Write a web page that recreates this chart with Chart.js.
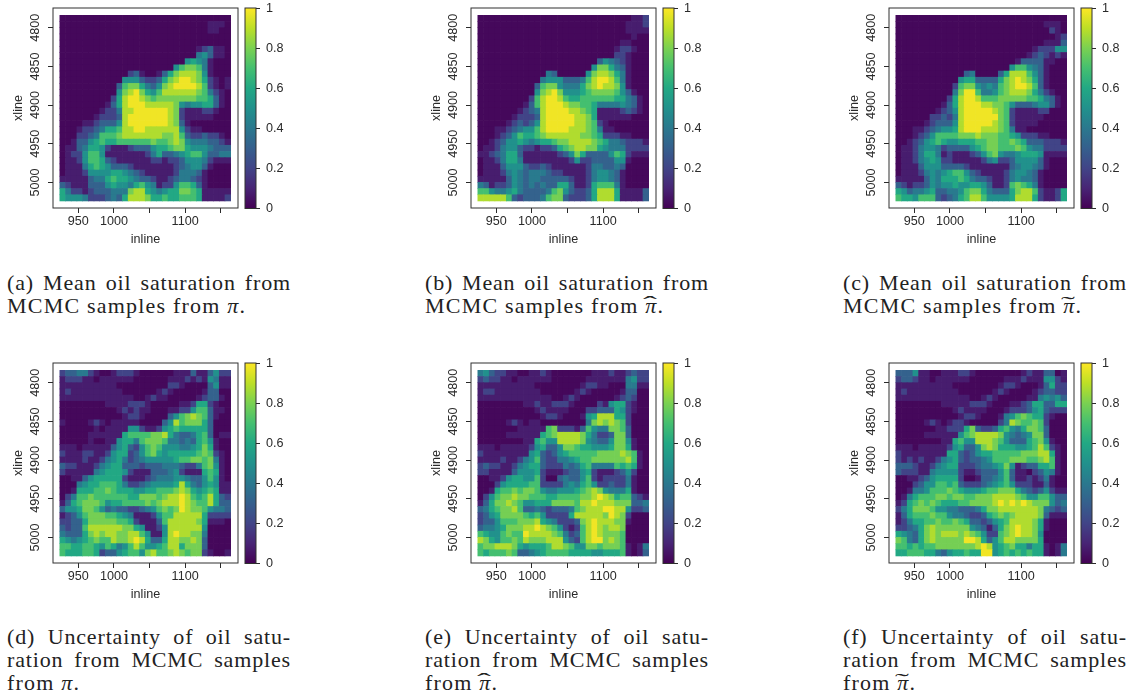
<!DOCTYPE html>
<html>
<head>
<meta charset="utf-8">
<title>Oil saturation maps</title>
<script src="https://cdn.jsdelivr.net/npm/chart.js@4/dist/chart.umd.min.js"></script>
<style>
  html, body { margin: 0; background: #fff; }
  #page { position: relative; width: 1137px; height: 700px; overflow: hidden; }
  canvas { position: absolute; filter: blur(0.35px); }
  .cap { position: absolute; width: 284px; font: 22px/22.8px "Liberation Serif", serif; letter-spacing: 1.2px; color: #222; }
  .cap div { white-space: nowrap; }
  .cap .j { width: 290px; letter-spacing: 0.85px; word-spacing: 0; }
  .cap .j span { display: block; width: 284px; white-space: normal; text-align: justify; text-align-last: justify; }
  .acc { position: relative; display: inline-block; font-style: italic; }
  .acc i { position: absolute; left: 0; top: -2px; width: 100%; text-align: center; font-style: normal; transform: scaleX(1.9); }
</style>
</head>
<body>
<div id="page"></div>
<script>
// grid centres of the survey
const inlineCenters = [928,936,944,952,960,968,976,984,992,1000,1008,1016,1024,1032,1040,1048,1056,1064,1072,1080,1088,1096,1104,1112,1120,1128,1136,1144,1152,1160];
const xlineCenters = [4788,4796,4804,4812,4820,4828,4836,4844,4852,4860,4868,4876,4884,4892,4900,4908,4916,4924,4932,4940,4948,4956,4964,4972,4980,4988,4996,5004,5012,5020];

const inlineTicks = [950,1000,1050,1100,1150];
const inlineLabelled = [950,1000,1100];
const xlineTicks = [4800,4850,4900,4950,5000];
const colorTicks = [0,0.2,0.4,0.6,0.8,1];

// the picture was read in eleven colour steps, this is the value of each step
const stepValues = [0.02,0.08,0.2,0.31,0.41,0.5,0.6,0.7,0.79,0.88,0.98];

// cells below hold the step number
const meanPi = [
[0,0,0,0,0,0,0,0,0,0,0,0,0,0,0,0,0,0,0,0,0,0,0,0,0,0,0,0,0,0],
[0,0,0,0,0,0,0,0,0,0,0,0,0,0,0,0,0,0,0,0,0,0,0,0,0,0,1,1,1,0],
[0,0,0,0,0,0,0,0,0,0,0,0,0,0,0,0,0,0,0,0,0,0,0,0,0,0,1,1,0,0],
[0,0,0,0,0,0,0,0,0,0,0,0,0,0,0,0,0,0,0,0,0,0,0,0,0,0,0,0,0,0],
[0,0,0,0,0,0,0,0,0,0,0,0,0,0,0,0,0,0,0,0,0,0,0,0,0,0,0,0,0,0],
[0,0,0,0,0,0,0,0,0,0,0,0,0,0,0,0,0,0,0,0,0,0,0,0,1,2,3,1,1,0],
[0,0,0,0,0,0,0,0,0,0,0,0,0,0,0,0,0,0,0,0,0,0,0,0,4,5,3,1,1,0],
[0,0,0,0,0,0,0,0,0,0,0,0,0,0,0,0,0,0,0,0,0,0,5,6,5,4,1,0,0,0],
[0,0,0,0,0,0,0,0,0,0,0,0,0,0,0,0,0,0,0,0,5,7,8,8,7,4,1,0,0,0],
[0,0,0,0,0,0,0,0,0,0,0,0,2,3,1,0,0,1,3,6,8,9,9,9,8,5,1,0,0,0],
[0,0,0,0,0,0,0,0,0,0,0,5,5,5,3,2,2,3,6,8,9,10,10,9,8,6,2,1,0,1],
[0,0,0,0,0,0,0,0,0,0,3,7,8,8,6,4,3,5,8,9,10,10,10,10,9,7,2,1,0,1],
[0,0,0,0,0,0,0,0,0,0,5,8,9,10,8,6,5,7,9,9,9,9,9,9,8,7,4,2,1,0],
[0,0,0,0,0,0,0,0,0,2,6,9,10,10,9,8,7,8,8,8,8,8,8,8,7,7,6,3,1,0],
[0,0,0,0,0,0,0,0,1,3,6,9,10,10,10,9,9,9,9,9,8,5,4,5,5,6,6,3,1,0],
[0,0,0,0,0,0,0,1,2,2,4,9,9,10,10,10,10,10,10,9,8,2,1,1,1,2,2,1,0,0],
[0,0,0,0,0,0,1,2,2,2,3,9,10,10,10,10,10,10,10,9,8,2,1,1,1,1,1,0,0,0],
[0,0,0,0,1,1,2,3,3,3,5,9,10,10,10,10,10,10,10,9,8,3,1,0,0,0,0,0,0,0],
[0,0,0,1,2,2,3,4,6,6,7,9,9,10,10,9,9,9,9,9,9,5,2,1,1,0,0,0,0,0],
[0,0,0,2,2,3,4,7,7,7,8,9,9,9,9,9,9,9,8,8,9,7,3,2,2,3,2,2,1,0],
[0,0,1,3,3,5,6,7,6,6,7,7,7,7,7,7,8,7,7,8,9,8,5,4,4,4,3,3,2,1],
[0,1,1,3,4,6,6,5,2,1,1,1,2,3,3,3,5,6,6,7,8,8,6,5,5,5,4,3,3,3],
[0,1,2,2,5,7,7,5,1,1,1,1,1,1,1,2,4,6,3,3,4,5,6,7,7,5,3,3,4,4],
[0,1,1,2,5,7,7,6,3,2,1,1,1,1,1,1,2,2,1,2,2,3,5,5,5,4,2,1,1,1],
[0,1,1,1,4,6,7,6,5,3,3,3,2,1,1,1,1,1,1,1,2,3,4,5,5,3,1,0,0,0],
[0,1,1,1,2,5,5,5,5,6,6,5,4,3,2,1,1,1,1,1,2,4,4,4,3,1,0,0,0,0],
[1,1,1,1,1,3,4,4,6,7,6,6,5,4,3,3,2,1,1,2,3,4,4,3,2,1,0,0,0,0],
[3,2,1,1,1,3,3,3,5,6,5,5,4,6,7,5,4,1,2,2,5,7,7,6,3,1,0,0,0,0],
[6,4,2,2,1,2,3,3,3,4,4,4,8,9,9,6,5,4,5,6,6,8,8,7,6,1,1,1,1,1],
[6,5,5,5,4,2,2,2,3,4,3,6,9,9,9,8,6,6,7,6,6,7,7,7,6,1,1,1,1,2]
];
const meanHat = [
[0,0,0,0,0,0,0,0,0,0,0,0,0,0,0,0,0,0,0,0,0,0,0,0,0,0,0,1,1,2],
[0,0,0,0,0,0,0,0,0,0,0,0,0,0,0,0,0,0,0,0,0,0,0,0,0,0,1,1,1,2],
[0,0,0,0,0,0,0,0,0,0,0,0,0,0,0,0,0,0,0,0,0,0,0,0,0,0,1,1,1,1],
[0,0,0,0,0,0,0,0,0,0,0,0,0,0,0,0,0,0,0,0,0,0,0,0,0,0,0,1,0,0],
[0,0,0,0,0,0,0,0,0,0,0,0,0,0,0,0,0,0,0,0,0,0,0,0,0,1,1,0,0,0],
[0,0,0,0,0,0,0,0,0,0,0,0,0,0,0,0,0,0,0,0,0,0,0,0,1,2,2,1,0,0],
[0,0,0,0,0,0,0,0,0,0,0,0,0,0,0,0,0,0,0,0,0,0,0,0,2,2,1,0,0,0],
[0,0,0,0,0,0,0,0,0,0,0,0,0,0,0,0,0,0,0,0,0,3,5,4,3,2,1,0,0,0],
[0,0,0,0,0,0,0,0,0,0,0,0,0,0,0,0,0,0,0,0,5,8,8,6,4,3,1,0,0,0],
[0,0,0,0,0,0,0,0,0,0,0,0,4,3,0,0,0,0,0,5,8,9,9,8,6,4,1,0,0,0],
[0,0,0,0,0,0,0,0,0,0,0,4,5,5,5,3,3,3,4,7,9,10,10,9,7,4,1,0,0,0],
[0,0,0,0,0,0,0,0,0,0,3,7,8,8,5,4,4,4,6,8,9,10,9,9,8,5,1,0,0,0],
[0,0,0,0,0,0,0,0,0,0,5,8,9,10,8,5,5,5,6,7,8,8,8,8,7,5,3,1,0,0],
[0,0,0,0,0,0,0,0,0,2,7,9,10,10,9,7,6,6,7,7,7,7,7,7,6,6,4,3,1,0],
[0,0,0,0,0,0,0,0,1,3,7,9,10,10,10,9,8,8,7,7,6,4,4,4,4,5,4,3,1,0],
[0,0,0,0,0,0,0,1,2,3,4,9,10,10,10,10,9,9,8,7,6,1,1,1,1,2,3,2,1,0],
[0,0,0,0,0,0,1,2,2,2,3,9,10,10,10,10,10,9,9,8,6,1,1,1,1,1,1,0,0,0],
[0,0,0,0,0,1,2,3,2,3,5,9,10,10,10,10,10,9,9,8,7,2,1,0,0,0,0,0,0,0],
[0,0,0,1,1,2,3,4,5,5,7,9,10,10,10,10,9,9,9,8,7,4,1,1,0,0,0,0,0,0],
[0,0,0,1,2,3,5,7,6,6,7,8,9,9,9,9,9,9,8,8,7,6,2,2,2,1,1,0,0,0],
[0,0,1,2,3,5,5,6,5,4,5,6,6,7,8,8,9,9,9,9,8,7,6,4,4,3,2,2,2,1],
[0,1,1,2,4,5,5,3,2,2,1,2,2,3,6,7,8,9,9,8,8,6,5,4,4,4,2,2,2,2],
[1,1,2,3,4,6,6,3,1,1,1,1,1,1,2,3,5,8,6,3,3,3,3,5,7,6,2,1,1,1],
[0,1,1,2,4,6,6,4,1,1,1,1,1,1,1,1,2,5,2,2,3,3,3,3,5,5,1,0,0,0],
[0,1,1,1,3,5,5,5,3,2,2,3,2,1,1,1,1,1,1,2,4,4,3,3,4,3,0,0,0,0],
[0,1,1,1,2,4,5,4,3,4,4,4,3,2,2,1,1,1,1,2,4,5,5,4,3,1,0,0,0,0],
[1,1,1,1,1,3,5,4,3,4,4,3,3,3,3,3,2,1,1,2,4,5,5,4,3,1,0,0,0,0],
[4,3,1,2,2,3,5,4,3,4,3,4,3,3,6,6,3,1,1,2,6,7,7,7,4,1,0,0,0,0],
[7,7,5,4,4,5,6,4,3,3,3,3,4,7,8,5,3,2,2,3,6,9,9,9,6,1,1,1,1,3],
[9,9,9,9,9,7,3,2,3,3,3,4,7,8,8,3,2,2,2,3,6,9,9,9,6,1,1,1,1,3]
];
const meanTilde = [
[0,0,0,0,0,0,0,0,0,0,0,0,0,0,0,0,0,0,0,0,0,0,0,0,0,0,0,0,0,0],
[0,0,0,0,0,0,0,0,0,0,0,0,0,0,0,0,0,0,0,0,0,0,0,0,0,0,1,1,1,0],
[0,0,0,0,0,0,0,0,0,0,0,0,0,0,0,0,0,0,0,0,0,0,0,0,0,0,0,2,1,0],
[0,0,0,0,0,0,0,0,0,0,0,0,0,0,0,0,0,0,0,0,0,0,0,0,0,0,0,0,1,2],
[0,0,0,0,0,0,0,0,0,0,0,0,0,0,0,0,0,0,0,0,0,0,0,0,0,0,1,1,1,3],
[0,0,0,0,0,0,0,0,0,0,0,0,0,0,0,0,0,0,0,0,0,0,0,0,1,2,2,2,5,5],
[0,0,0,0,0,0,0,0,0,0,0,0,0,0,0,0,0,0,0,0,0,0,0,1,2,3,2,1,2,1],
[0,0,0,0,0,0,0,0,0,0,0,0,0,0,0,0,0,0,0,0,0,1,3,3,3,3,1,1,0,0],
[0,0,0,0,0,0,0,0,0,0,0,0,0,0,0,0,0,0,0,0,5,7,7,5,4,3,1,0,0,0],
[0,0,0,0,0,0,0,0,0,0,0,0,3,4,0,0,0,0,3,6,9,9,9,7,5,3,1,0,0,0],
[0,0,0,0,0,0,0,0,0,0,0,5,6,6,3,3,3,3,6,8,9,10,9,8,6,3,1,0,0,0],
[0,0,0,0,0,0,0,0,0,0,2,7,8,8,5,4,5,4,7,8,9,10,10,9,7,3,1,0,0,0],
[0,0,0,0,0,0,0,0,0,0,4,8,10,10,7,4,4,5,7,8,9,9,9,8,6,4,2,1,0,0],
[0,0,0,0,0,0,0,0,0,2,6,9,10,10,9,7,7,7,8,8,8,8,8,7,7,6,4,3,1,0],
[0,0,0,0,0,0,0,0,1,3,6,9,10,10,10,9,9,8,8,7,5,3,3,3,4,5,5,3,1,0],
[0,0,0,0,0,0,0,1,2,3,5,9,10,10,10,10,10,9,8,7,2,1,1,1,1,2,2,0,0,0],
[0,0,0,0,0,0,2,2,3,2,4,9,10,10,10,10,10,10,8,7,2,1,1,1,1,1,0,0,0,0],
[0,0,0,0,0,1,2,3,3,3,5,9,10,10,10,10,10,9,8,7,2,1,1,1,1,0,0,0,0,0],
[0,0,0,1,1,2,3,4,5,5,6,9,10,10,10,9,9,9,8,7,4,1,1,0,0,0,0,0,0,0],
[0,0,0,1,2,3,5,7,7,7,7,8,8,8,9,8,8,8,7,7,6,5,2,2,2,1,1,0,0,0],
[0,0,1,2,3,5,6,7,6,5,5,6,6,6,7,7,8,8,7,7,8,7,6,3,3,3,2,2,2,1],
[0,1,1,2,4,5,5,4,2,3,3,3,3,5,6,7,8,8,7,7,7,8,7,5,4,4,2,2,2,2],
[0,1,1,2,4,6,6,4,1,2,1,1,1,2,3,5,7,8,5,4,4,5,6,6,6,5,1,1,1,1],
[0,1,1,2,4,5,6,5,2,2,1,1,1,1,1,2,4,5,2,2,3,5,5,5,5,3,1,0,0,0],
[0,1,1,1,3,5,5,5,3,3,3,3,2,1,1,1,1,1,1,1,3,4,5,5,4,3,1,0,0,0],
[0,1,1,1,2,4,5,4,5,6,7,7,5,3,2,1,1,1,1,2,4,5,5,4,3,1,0,0,0,0],
[1,1,1,1,1,3,5,4,6,6,6,7,6,4,3,3,2,1,1,2,4,5,4,4,3,1,0,0,0,0],
[3,2,1,2,2,3,5,4,5,5,6,5,5,6,6,5,3,1,1,2,7,8,7,6,4,1,0,0,0,0],
[6,5,3,4,4,5,6,3,3,4,4,5,7,8,8,6,4,3,3,3,6,8,9,9,7,2,1,1,2,6],
[7,6,6,5,7,7,7,3,2,3,4,6,7,9,9,7,5,5,5,5,6,9,9,9,6,2,1,1,2,6]
];
const uncertPi = [
[2,3,3,4,4,2,1,0,0,1,2,2,2,1,0,0,0,0,0,0,1,1,1,3,1,1,3,5,2,2],
[1,2,2,2,1,1,0,1,1,1,1,1,1,0,0,0,0,0,0,1,1,1,2,1,2,1,5,4,1,1],
[1,1,1,1,1,1,1,1,1,1,0,0,0,0,0,0,0,0,0,2,2,1,0,0,0,0,3,5,1,1],
[1,2,1,1,1,1,1,1,1,1,1,0,0,0,0,0,0,1,2,1,0,0,0,0,0,1,3,3,0,0],
[1,1,1,1,1,1,1,1,1,1,1,1,1,0,0,1,2,1,1,0,0,0,0,0,1,2,3,3,1,0],
[0,0,0,0,0,0,0,0,1,1,1,1,2,2,2,1,0,0,0,0,0,1,1,2,6,6,2,1,0,0],
[0,0,0,0,0,0,0,0,0,0,1,2,1,2,1,1,0,0,0,1,1,2,2,5,7,7,3,1,1,0],
[0,0,0,0,0,0,0,0,0,0,0,1,2,2,1,0,0,0,0,3,5,7,8,9,8,7,3,1,0,0],
[1,0,0,0,0,1,2,1,0,1,1,1,1,1,0,0,0,0,3,5,9,7,8,8,8,6,3,0,0,0],
[0,0,0,0,0,0,1,0,1,1,1,1,5,5,2,1,1,2,5,6,7,6,6,6,6,6,3,0,0,0],
[0,0,0,0,0,1,1,1,1,1,1,6,7,7,7,7,8,8,9,6,4,3,3,4,6,7,3,0,1,1],
[0,0,0,0,0,1,0,0,1,1,5,6,6,4,7,8,8,8,7,4,4,3,4,3,6,7,5,1,0,0],
[1,1,1,0,1,1,1,1,1,3,5,6,3,2,5,7,8,7,5,5,5,4,4,5,6,8,6,1,0,0],
[2,1,1,1,2,2,1,1,2,5,6,6,2,3,5,7,8,6,5,6,6,6,6,6,7,8,7,2,1,0],
[1,1,1,1,2,1,1,2,4,5,6,4,2,3,4,5,5,5,5,5,6,7,7,8,8,7,8,4,1,0],
[3,2,2,1,1,1,2,4,5,6,6,3,3,3,2,3,3,3,4,4,4,3,2,2,4,7,8,5,1,0],
[2,1,1,1,1,1,4,5,6,6,6,5,2,1,1,1,3,3,3,4,5,2,1,1,1,6,7,6,1,0],
[0,0,1,1,3,5,6,6,6,6,6,2,1,1,1,2,3,4,4,4,5,5,4,3,3,5,7,5,1,0],
[0,0,0,4,5,6,6,7,7,7,6,4,2,2,3,4,5,5,5,5,6,9,6,4,3,5,6,5,1,1],
[0,0,1,6,6,6,7,7,8,7,6,6,6,5,5,6,6,7,7,7,8,9,8,6,5,6,7,6,1,1],
[0,2,4,7,7,8,7,7,7,7,7,7,6,6,8,8,8,7,8,9,9,10,9,7,6,7,9,6,3,2],
[1,3,6,7,8,8,8,7,5,6,6,7,7,7,7,8,7,8,9,9,9,10,9,8,7,7,9,6,3,3],
[3,5,5,6,8,8,7,5,3,4,3,3,2,2,3,4,5,7,8,7,8,10,9,8,8,7,5,4,4,3],
[1,2,3,5,7,8,8,8,7,7,6,5,4,1,1,1,2,5,7,7,9,9,9,9,9,6,2,2,2,2],
[2,2,3,3,6,8,8,8,8,8,7,7,6,2,1,1,1,3,7,9,9,9,9,9,8,6,1,1,1,0],
[3,2,3,3,7,9,9,9,9,9,9,8,8,6,5,1,1,2,5,9,9,9,9,9,9,5,0,0,0,0],
[4,3,3,3,6,8,9,8,9,9,8,8,9,9,7,5,1,1,5,9,10,9,9,8,8,4,0,0,0,0],
[6,5,4,5,6,7,8,7,7,9,8,8,9,10,9,6,3,3,6,9,9,8,8,9,8,3,0,0,0,0],
[7,7,6,6,7,7,6,5,7,6,4,5,7,9,7,5,5,6,7,9,9,6,8,8,8,3,0,0,0,0],
[7,6,6,6,7,7,6,2,3,3,5,6,7,7,5,8,9,7,7,8,9,8,7,8,8,2,1,0,0,1]
];
const uncertHat = [
[4,5,3,2,2,1,1,0,0,1,1,2,1,0,0,0,0,0,0,0,1,1,1,2,1,1,2,3,2,2],
[2,3,2,2,1,1,0,1,1,1,1,1,1,0,0,0,0,0,0,1,1,1,1,1,1,1,4,5,2,2],
[1,1,1,1,1,1,1,1,1,1,0,0,0,0,0,0,0,0,1,2,2,1,1,0,0,0,4,4,1,1],
[1,2,2,1,1,1,1,1,1,1,1,0,0,0,0,0,0,1,2,1,0,0,0,0,0,1,3,3,0,0],
[1,1,1,1,1,1,1,1,1,1,1,1,1,0,0,1,2,1,0,0,0,0,0,0,1,2,3,2,0,0],
[0,0,0,0,0,0,0,0,1,1,2,1,1,2,2,2,1,0,0,0,0,2,1,5,6,6,2,1,0,0],
[0,0,0,0,0,0,0,0,0,0,1,2,1,1,1,1,0,0,0,2,2,3,3,3,6,5,2,1,0,0],
[0,0,0,0,0,0,0,0,0,0,0,1,2,2,1,0,0,0,1,5,6,9,9,9,6,6,2,0,0,0],
[0,0,0,0,0,1,2,1,0,1,1,0,0,0,0,0,0,0,0,4,8,9,8,9,8,7,2,0,0,0],
[0,0,0,0,0,0,0,1,1,1,1,1,7,8,2,2,2,1,3,7,5,4,4,8,8,7,3,0,0,0],
[0,0,0,0,0,1,1,1,1,1,1,6,7,8,9,9,9,9,8,6,4,2,2,3,8,8,3,0,0,0],
[0,0,0,0,0,0,0,0,1,1,6,7,5,5,9,9,9,9,8,5,4,3,3,5,8,8,5,1,0,0],
[1,1,1,0,1,1,1,1,1,2,5,6,3,3,5,8,8,7,6,6,5,5,5,6,8,8,6,1,0,0],
[2,1,1,1,1,1,1,1,1,5,6,3,2,3,5,6,7,7,7,7,7,8,8,8,8,9,8,7,1,0],
[1,1,1,1,2,1,1,2,4,5,7,3,2,2,4,4,5,6,7,7,8,8,8,8,8,8,9,7,1,0],
[2,3,2,2,1,1,2,4,5,6,6,3,2,2,2,4,3,4,6,7,4,4,4,4,7,6,7,6,1,0],
[2,2,1,1,1,1,3,5,5,5,6,2,1,1,1,2,3,3,5,6,2,1,1,1,2,3,5,2,0,0],
[0,0,1,1,2,5,6,6,5,5,7,2,0,0,3,4,3,3,5,7,2,1,2,2,2,2,4,1,0,0],
[0,0,0,2,5,6,6,6,6,7,7,2,2,2,2,4,5,4,6,7,5,2,2,3,2,2,4,1,0,0],
[0,0,1,6,7,7,8,7,8,8,7,5,4,4,5,5,5,6,7,8,9,8,5,4,4,4,6,1,0,0],
[0,2,5,7,8,8,9,8,8,7,7,7,6,6,7,7,7,7,8,8,9,10,9,8,6,7,7,3,2,1],
[1,3,6,8,8,9,8,7,5,5,6,6,6,8,8,8,8,7,9,9,10,9,9,9,8,8,8,3,3,4],
[3,4,6,7,8,8,9,7,3,3,4,3,2,3,3,3,4,7,8,9,9,9,10,10,9,9,5,2,2,3],
[2,3,5,6,8,8,8,8,7,6,7,5,2,2,2,2,6,9,9,9,9,9,8,10,9,8,2,0,0,0],
[2,3,3,5,7,7,7,8,8,8,9,6,5,4,2,2,2,3,8,9,10,9,9,9,8,8,1,0,0,0],
[3,4,4,5,6,8,8,8,9,9,10,9,8,7,5,2,1,2,7,9,10,9,8,9,9,8,0,0,0,0],
[7,6,5,5,7,8,7,7,10,9,9,9,9,8,7,4,2,3,7,9,10,9,8,8,8,7,0,0,0,0],
[9,8,6,5,7,7,8,7,9,8,8,8,9,9,9,5,3,2,7,9,10,10,8,9,8,7,0,0,0,0],
[7,8,8,9,9,9,8,6,5,6,6,6,7,9,9,8,7,5,5,8,8,7,8,8,8,7,1,0,1,4],
[7,6,7,7,7,8,7,3,3,4,5,6,7,7,7,7,6,6,6,6,5,5,6,6,6,7,1,0,1,3]
];
const uncertTilde = [
[3,3,3,5,1,1,0,0,1,1,1,2,2,1,0,0,0,0,0,0,0,0,1,2,1,1,3,3,0,1],
[2,3,3,2,1,1,0,1,1,1,1,1,1,0,0,0,0,0,0,1,1,1,2,1,1,1,5,5,2,1],
[1,1,1,1,1,1,1,1,1,1,0,0,0,0,0,0,0,0,1,2,2,1,0,0,0,1,3,6,2,2],
[1,2,1,1,1,1,1,1,1,1,1,0,0,0,0,0,0,1,2,1,0,0,0,0,1,2,3,3,2,2],
[1,1,1,1,1,1,1,1,1,1,1,1,1,0,0,1,2,1,0,0,0,0,0,1,1,4,5,4,5,3],
[0,0,0,0,0,0,0,0,1,1,1,1,1,2,2,2,1,0,0,0,1,1,2,3,6,6,3,3,6,6],
[0,0,0,0,0,0,0,0,0,0,1,2,1,1,1,1,0,0,0,1,2,2,2,3,5,6,3,2,2,2],
[0,0,0,0,0,0,0,0,0,0,0,1,2,2,1,0,0,0,1,4,5,7,8,7,6,6,2,1,0,0],
[0,0,0,0,0,1,2,1,0,1,2,2,1,0,0,0,0,0,2,4,9,8,7,7,8,7,2,0,0,0],
[0,0,0,0,0,0,0,1,1,2,2,2,6,8,3,2,2,3,6,7,5,4,6,8,8,7,3,0,0,0],
[0,0,0,0,0,1,1,1,1,1,1,5,7,8,9,9,9,9,8,5,4,3,4,5,8,8,3,0,0,0],
[0,0,0,0,0,0,0,0,1,1,6,7,5,5,9,9,9,8,7,5,3,3,3,6,7,8,5,1,0,0],
[1,1,1,0,1,1,1,1,1,2,5,6,3,3,5,8,9,8,6,6,6,5,5,6,7,9,7,2,1,0],
[2,1,1,1,1,1,1,1,1,6,6,3,2,3,5,6,6,7,7,7,7,7,8,8,8,9,9,6,1,0],
[2,1,2,1,2,1,1,2,4,5,6,3,2,3,3,4,5,7,7,7,8,8,8,7,7,8,9,7,1,0],
[3,3,3,2,1,1,2,4,5,6,6,2,2,2,3,4,4,5,6,8,5,1,2,3,3,6,6,7,1,0],
[3,2,2,2,1,1,4,5,5,5,5,2,1,1,2,3,3,3,5,7,3,1,1,0,2,3,5,4,1,0],
[0,0,1,1,2,3,5,6,6,6,6,2,0,0,1,3,3,4,5,7,3,1,1,2,1,2,4,1,0,0],
[0,0,0,2,3,5,5,7,7,6,7,3,2,2,2,3,4,5,6,7,5,2,2,2,1,1,3,1,0,0],
[0,0,1,4,4,5,7,7,7,8,7,6,5,5,5,6,7,7,8,8,8,6,4,3,2,3,5,2,1,1],
[0,1,4,6,7,7,7,8,8,7,8,8,7,7,8,8,8,9,9,9,9,8,7,5,5,7,7,5,3,3],
[1,2,6,7,8,7,8,7,6,6,6,7,7,8,8,8,8,9,10,9,10,9,10,9,8,8,8,5,3,4],
[2,4,6,8,8,8,7,5,5,4,4,3,3,3,4,6,8,8,9,9,9,9,9,9,9,8,4,3,2,3],
[1,3,6,7,7,7,8,7,7,5,4,4,3,2,2,3,6,7,8,7,8,9,9,9,9,8,3,1,1,1],
[1,2,4,6,6,7,7,8,7,7,8,7,6,3,3,2,3,5,6,7,9,9,9,9,8,6,1,0,0,0],
[2,2,3,4,6,8,9,8,8,8,8,8,8,5,4,3,1,3,6,8,9,10,9,9,8,6,1,0,0,0],
[6,5,4,3,6,8,9,8,9,9,9,8,9,8,7,5,2,2,7,8,9,10,9,9,8,5,0,0,0,0],
[8,7,4,3,6,8,9,8,8,8,8,8,10,10,9,6,3,5,7,9,9,8,8,8,8,6,0,0,0,0],
[7,7,6,7,6,7,7,8,8,8,8,8,8,8,9,10,9,5,6,7,8,6,6,4,6,6,1,0,1,4],
[6,6,7,7,7,6,6,4,3,5,6,6,7,6,6,10,10,5,6,7,6,7,6,7,6,6,1,0,1,4]
];

const viridis = ['#440154','#482475','#414487','#355f8d','#2a788e','#21918c','#22a884','#44bf70','#7ad151','#bddf26','#fde725'];

function hexRgb(h) {
  return [1,3,5].map(i => parseInt(h.slice(i, i + 2), 16));
}
function viridisAt(t) {
  const p = Math.min(Math.max(t, 0), 1) * 10;
  const i = Math.min(Math.floor(p), 9);
  const a = hexRgb(viridis[i]), b = hexRgb(viridis[i + 1]);
  const c = a.map((v, k) => Math.round(v + (b[k] - v) * (p - i)));
  return `rgb(${c[0]},${c[1]},${c[2]})`;
}

// draws the R style frame
const framePlugin = {
  id: 'frame',
  afterDraw(chart) {
    const a = chart.chartArea, ctx = chart.ctx;
    ctx.save();
    ctx.strokeStyle = '#303030';
    ctx.lineWidth = 1;
    ctx.strokeRect(a.left, a.top, a.right - a.left, a.bottom - a.top);
    ctx.restore();
  }
};

const page = document.getElementById('page');
const axisFont = { family: '"Liberation Sans", Arial, sans-serif', size: 12.6 };
const inkColor = '#2a2a2a';

function addCanvas(left, top, w, h) {
  const c = document.createElement('canvas');
  c.width = w; c.height = h;
  c.style.left = left + 'px'; c.style.top = top + 'px';
  page.appendChild(c);
  return c;
}

function noMargins(s) {
  s.paddingTop = s.paddingBottom = s.paddingLeft = s.paddingRight = 0;
}

function drawHeat(left, top, rows) {
  const cells = [], colours = [];
  rows.forEach((row, r) => row.forEach((v, c) => {
    cells.push({ x: [inlineCenters[c] - 4, inlineCenters[c] + 4], y: xlineCenters[r] });
    colours.push(viridisAt(stepValues[v]));
  }));
  new Chart(addCanvas(left, top, 242, 250), {
    type: 'bar',
    data: { datasets: [{ data: cells, backgroundColor: colours, barPercentage: 1, categoryPercentage: 1 }] },
    options: {
      indexAxis: 'y',
      responsive: false,
      animation: false,
      events: [],
      layout: { padding: { top: 8, right: 4, left: 0, bottom: 0 } },
      plugins: { legend: { display: false }, tooltip: { enabled: false } },
      scales: {
        x: {
          type: 'linear', offset: false, min: 914.4, max: 1174.3,
          afterFit(s) { s.height = 42; noMargins(s); },
          afterBuildTicks(s) { s.ticks = inlineTicks.map(value => ({ value })); },
          border: { display: false },
          grid: { drawOnChartArea: false, tickLength: 5, tickColor: inkColor },
          ticks: {
            autoSkip: false, maxRotation: 0, padding: 1, color: inkColor, font: axisFont,
            callback: v => inlineLabelled.includes(v) ? String(v) : ''
          },
          title: { display: true, text: 'inline', color: inkColor, font: axisFont, padding: { top: 0, bottom: 3 } }
        },
        y: {
          type: 'linear', offset: false, reverse: true, min: 4774.5, max: 5033.1,
          afterFit(s) { s.width = 53; noMargins(s); },
          afterBuildTicks(s) { s.ticks = xlineTicks.map(value => ({ value })); },
          border: { display: false },
          grid: { drawOnChartArea: false, offset: false, tickLength: 5, tickColor: inkColor },
          ticks: {
            autoSkip: false, minRotation: 90, maxRotation: 90, crossAlign: 'center', padding: -2,
            color: inkColor, font: axisFont, callback: v => String(v)
          },
          title: { display: true, text: 'xline', color: inkColor, font: axisFont, padding: { top: 11, bottom: 0 } }
        }
      }
    },
    plugins: [framePlugin]
  });
}

function drawColorbar(left, top) {
  new Chart(addCanvas(left, top, 50, 250), {
    type: 'bar',
    data: {
      labels: [''],
      datasets: [{
        data: [[0, 1.005]],
        barPercentage: 1,
        categoryPercentage: 1,
        backgroundColor(ctx) {
          const a = ctx.chart.chartArea;
          if (!a) return viridis[0];
          const g = ctx.chart.ctx.createLinearGradient(0, a.bottom, 0, a.top);
          viridis.forEach((col, i) => g.addColorStop(i / 10, col));
          return g;
        }
      }]
    },
    options: {
      responsive: false,
      animation: false,
      events: [],
      layout: { padding: { top: 8, bottom: 41.5, left: 5, right: 0 } },
      plugins: { legend: { display: false }, tooltip: { enabled: false } },
      scales: {
        x: { display: false },
        y: {
          position: 'right', min: 0, max: 1.005,
          afterFit(s) { s.width = 34; noMargins(s); },
          afterBuildTicks(s) { s.ticks = colorTicks.map(value => ({ value })); },
          border: { display: false },
          grid: { drawOnChartArea: false, tickLength: 4, tickColor: inkColor },
          ticks: { padding: 6, color: inkColor, font: axisFont, callback: v => String(v) }
        }
      }
    },
    plugins: [framePlugin]
  });
}

const panels = [
  [0, 0, meanPi], [418, 0, meanHat], [836, 0, meanTilde],
  [0, 355, uncertPi], [418, 355, uncertHat], [836, 355, uncertTilde]
];
panels.forEach(p => {
  drawHeat(p[0], p[1], p[2]);
  drawColorbar(p[0] + 240, p[1]);
});

// captions
const piPlain = '<span class="acc">π</span>';
const piHat = '<span class="acc">π<i>ˆ</i></span>';
const piTilde = '<span class="acc">π<i>˜</i></span>';
const captions = [
  [7, 272, ['(a) Mean oil saturation from'], 'MCMC samples from ' + piPlain + '.'],
  [425, 272, ['(b) Mean oil saturation from'], 'MCMC samples from ' + piHat + '.'],
  [843, 272, ['(c) Mean oil saturation from'], 'MCMC samples from ' + piTilde + '.'],
  [7, 626, ['(d) Uncertainty of oil satu-', 'ration from MCMC samples'], 'from ' + piPlain + '.'],
  [425, 626, ['(e) Uncertainty of oil satu-', 'ration from MCMC samples'], 'from ' + piHat + '.'],
  [843, 626, ['(f) Uncertainty of oil satu-', 'ration from MCMC samples'], 'from ' + piTilde + '.']
];
captions.forEach(c => {
  const d = document.createElement('div');
  d.className = 'cap';
  d.style.left = c[0] + 'px';
  d.style.top = c[1] + 'px';
  d.innerHTML = c[2].map(t => `<div class="j"><span>${t}</span></div>`).join('') + `<div>${c[3]}</div>`;
  page.appendChild(d);
});
</script>
</body>
</html>
